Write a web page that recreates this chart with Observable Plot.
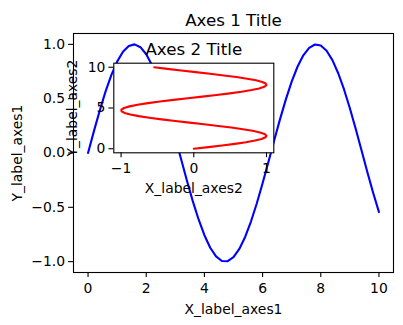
<!DOCTYPE html>
<html>
<head>
<meta charset="utf-8">
<script src="https://cdn.jsdelivr.net/npm/d3@7"></script>
<script src="https://cdn.jsdelivr.net/npm/@observablehq/plot@0.6"></script>
<style>
  html, body { margin: 0; padding: 0; background: white; }
  #wrap { position: relative; width: 403px; height: 325px; }
  #wrap svg { position: absolute; left: 0; top: 0; }
</style>
</head>
<body>
<div id="wrap"></div>
<script>
// sample positions (shared by both curves)
const t = [0,0.2,0.4,0.6,0.8,1.0,1.2,1.4,1.6,1.8,2.0,2.2,2.4,2.6,2.8,3.0,3.2,3.4,3.6,3.8,4.0,4.2,4.4,4.6,4.8,5.0,5.2,5.4,5.6,5.8,6.0,6.2,6.4,6.6,6.8,7.0,7.2,7.4,7.6,7.8,8.0,8.2,8.4,8.6,8.8,9.0,9.2,9.4,9.6,9.8,10.0];
// values
const v = [0,0.199,0.389,0.565,0.717,0.841,0.932,0.985,1.0,0.974,0.909,0.808,0.675,0.516,0.335,0.141,-0.058,-0.256,-0.443,-0.612,-0.757,-0.872,-0.952,-0.994,-0.996,-0.959,-0.883,-0.773,-0.631,-0.465,-0.279,-0.083,0.117,0.312,0.494,0.657,0.794,0.899,0.968,0.999,0.989,0.941,0.855,0.734,0.585,0.412,0.223,0.025,-0.174,-0.366,-0.544];

const mainXTicks = [0,2,4,6,8,10];
const mainYTicks = [-1.0,-0.5,0.0,0.5,1.0];
const insetXTicks = [-1,0,1];
const insetYTicks = [0,5,10];

const mainTitle = "Axes 1 Title";
const mainXLabel = "X_label_axes1";
const mainYLabel = "Y_label_axes1";
const insetTitle = "Axes 2 Title";
const insetXLabel = "X_label_axes2";
const insetYLabel = "Y_label_axes2";

const pts = t.map((x, i) => ({t: x, v: v[i]}));
const minus = s => String(s).replace("-", "\u2212");

const FONT = "DejaVu Sans";
const TICK = 13.9, TITLE = 16.7;

const main = Plot.plot({
  width: 403, height: 325,
  marginLeft: 73, marginRight: 10, marginTop: 33, marginBottom: 53,
  style: {fontFamily: FONT, fontSize: TICK + "px", color: "black", background: "white"},
  x: {domain: [-0.5, 10.5]},
  y: {domain: [-1.1, 1.1]},
  marks: [
    Plot.line(pts, {x: "t", y: "v", stroke: "#0000ff", strokeWidth: 2.1}),
    Plot.frame({stroke: "black", strokeWidth: 1.1}),
    Plot.axisX({ticks: mainXTicks, tickSize: 4.9, tickPadding: 5.5, fontSize: TICK, strokeWidth: 1.1, label: null, tickFormat: d => minus(d)}),
    Plot.axisY({ticks: mainYTicks, tickSize: 4.9, tickPadding: 3.5, fontSize: TICK, strokeWidth: 1.1, label: null, tickFormat: d => minus(d.toFixed(1))}),
    Plot.text([mainTitle], {frameAnchor: "top", dy: -8, lineAnchor: "bottom", fontSize: TITLE, fill: "black"}),
    Plot.text([mainXLabel], {frameAnchor: "bottom", dy: 41, lineAnchor: "bottom", fontSize: TICK, fill: "black"}),
    Plot.text([mainYLabel], {frameAnchor: "left", dx: -52, rotate: -90, textAnchor: "middle", lineAnchor: "bottom", fontSize: TICK, fill: "black"})
  ]
});

const inset = Plot.plot({
  width: 403, height: 325,
  marginLeft: 113.3, marginRight: 129.7, marginTop: 62.7, marginBottom: 172.7,
  style: {fontFamily: FONT, fontSize: TICK + "px", color: "black", background: "transparent"},
  x: {domain: [-1.1, 1.1]},
  y: {domain: [-0.5, 10.5]},
  marks: [
    Plot.frame({fill: "white", stroke: "none"}),
    Plot.line(pts, {x: "v", y: "t", stroke: "#ff0000", strokeWidth: 2.1, sort: null}),
    Plot.frame({stroke: "black", strokeWidth: 1.1}),
    Plot.axisX({ticks: insetXTicks, tickSize: 4.9, tickPadding: 5.5, fontSize: TICK, strokeWidth: 1.1, label: null, tickFormat: d => minus(d)}),
    Plot.axisY({ticks: insetYTicks, tickSize: 4.9, tickPadding: 3.5, fontSize: TICK, strokeWidth: 1.1, label: null, tickFormat: d => minus(d)}),
    Plot.text([insetTitle], {frameAnchor: "top", dy: -8, lineAnchor: "bottom", fontSize: TITLE, fill: "black"}),
    Plot.text([insetXLabel], {frameAnchor: "bottom", dy: 40, lineAnchor: "bottom", fontSize: TICK, fill: "black"}),
    Plot.text([insetYLabel], {frameAnchor: "left", dx: -37, rotate: -90, textAnchor: "middle", lineAnchor: "bottom", fontSize: TICK, fill: "black"})
  ]
});

const wrap = document.getElementById("wrap");
wrap.appendChild(main);
wrap.appendChild(inset);
</script>
</body>
</html>
